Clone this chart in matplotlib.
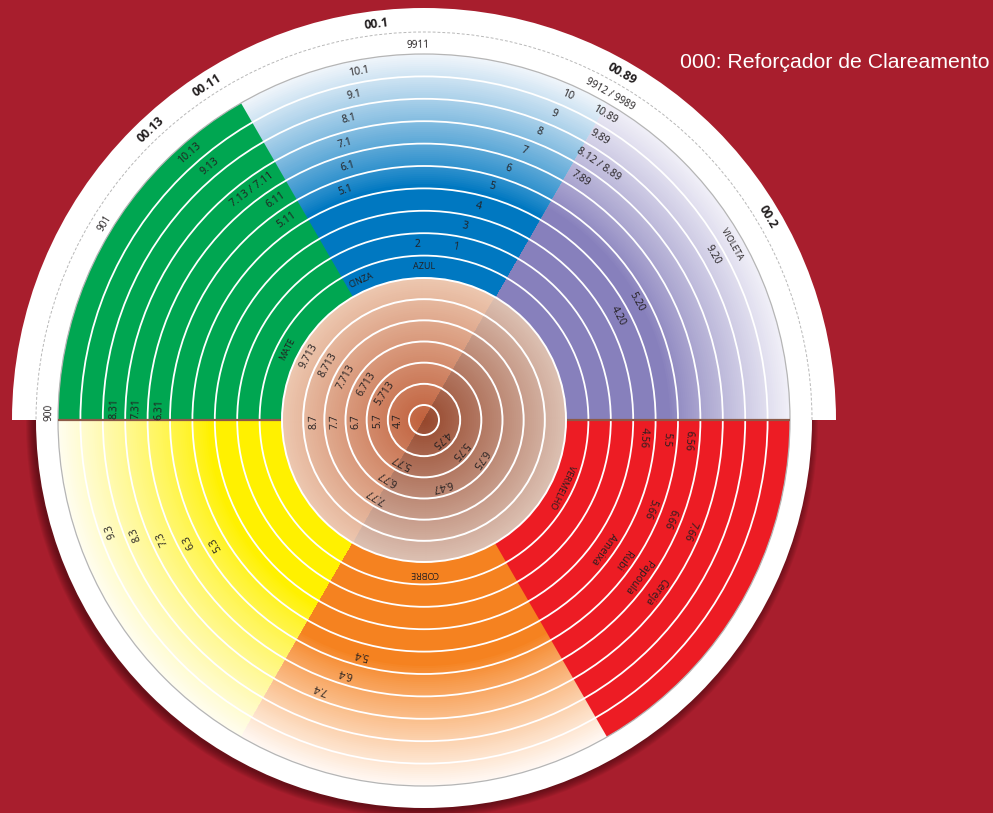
import numpy as np
import matplotlib.pyplot as plt
from matplotlib.patches import Wedge, Circle, Arc
from matplotlib.colors import to_rgb

# ---------------- data ----------------
title = '000: Reforçador de Clareamento'

# six reflex sectors of the outer wheel (start angle, degrees ccw from east)
sector_names = ['VIOLETA', 'AZUL', 'MATE', 'AMARELO', 'COBRE', 'VERMELHO']
sector_from = [0, 60, 120, 180, 240, 300]
n_levels = 10        # rings in the outer wheel
n_inner = 6          # rings in the inner (brown) disc

# labels in the outer wheel: text, ring level (1 = innermost), angle
violet_text = ['VIOLETA', '9.20', '5.20', '4.20', '10.89', '9.89', '8.12 / 8.89', '7.89']
violet_level = [10, 9, 5, 4, 10, 9, 8, 7]
violet_angle = [29.7, 29.8, 29.1, 28.3, 59.3, 58.1, 55.7, 57.0]

blue_text = ['AZUL', 'CINZA', '1', '2', '3', '4', '5', '6', '7', '8', '9', '10',
             '5.1', '6.1', '7.1', '8.1', '9.1', '10.1']
blue_level = [1, 1, 2, 2, 3, 4, 5, 6, 7, 8, 9, 10, 5, 6, 7, 8, 9, 10]
blue_angle = [90, 114, 79.5, 92, 78, 75.6, 73.8, 71.5, 69.6, 68.2, 66.9, 66.1,
              108.8, 106.7, 105.9, 104, 102.1, 100.5]

green_text = ['MATE', '5.11', '6.11', '7.13 / 7.11', '9.13', '10.13', '6.31', '7.31', '8.31']
green_level = [1, 5, 6, 7, 9, 10, 6, 7, 8]
green_angle = [152.7, 124.6, 124.1, 126.7, 130.2, 131.3, 177.8, 177.8, 177.8]

yellow_text = ['5.3', '6.3', '7.3', '8.3', '9.3']
yellow_level = [5, 6, 7, 8, 9]
yellow_angle = [210.6, 207.4, 204.3, 201.6, 199.4]

orange_text = ['COBRE', '5.4', '6.4', '7.4']
orange_level = [1, 5, 6, 7]
orange_angle = [270, 255.1, 252.7, 249]

red_text = ['VERMELHO', '4.56', '5.5', '6.56', '5.66', '6.66', '7.66',
            'Ameixa', 'Rubi', 'Papoula', 'Cereja']
red_level = [1, 4, 5, 6, 5, 6, 7, 4, 5, 6, 7]
red_angle = [-25.7, -4.5, -4.5, -4.5, -21.3, -21.9, -22.7, -35.4, -35, -36.2, -36.5]

# labels in the inner brown disc
inner_text = ['4.7', '5.7', '6.7', '7.7', '8.7', '5.713', '6.713', '7.713', '8.713', '9.713',
              '4.75', '5.75', '6.75', '6.47', '5.77', '6.77', '7.77']
inner_level = [1, 2, 3, 4, 5, 2, 3, 4, 5, 6, 1, 2, 3, 3, 2, 3, 4]
inner_angle = [181, 181, 181, 181, 181, 146, 148, 151, 150, 151,
               -48, -41, -35, -74.5, 242, 238, 238]

# labels in the white rim
rim_text = ['901', '9911', '9912 / 9989', '900']
rim_angle = [148.4, 91, 60.2, 178.8]
top_text = ['00.13', '00.11', '00.1', '00.89', '00.2']
top_angle = [133.2, 122.9, 96.8, 60.2, 30.6]

# ---------------- style ----------------
BG = '#a81e2d'
INK = '#231f20'
sector_base = ['#8780bc', '#0078c1', '#00a651', '#fff100', '#f58220', '#ed1c24']
sector_light = ['#f1f0f8', '#f2f6fb', '#00a651', '#fffdf0', '#fff9f4', '#ed1c24']
fade_start = [245, 235, 999, 215, 245, 999]

R_CORE = 15      # small centre circle
R_DISC = 142     # inner brown disc
R_WHEEL = 366    # coloured wheel
R_RIM_TOP = 412
R_RIM_BOT = 388
ring_w = (R_WHEEL - R_DISC) / n_levels
inner_w = (R_DISC - R_CORE) / n_inner

fig = plt.figure(figsize=(9.93, 8.13), dpi=100)
fig.patch.set_facecolor(BG)
ax = fig.add_axes([0, 0, 1, 1])
ax.set_xlim(-424, 569)
ax.set_ylim(-393, 420)
ax.axis('off')
ax.set_facecolor(BG)


def mix(c1, c2, t):
    a, b = np.array(to_rgb(c1)), np.array(to_rgb(c2))
    return tuple(a * (1 - t) + b * t)


# soft shadow under the lower half
for i in range(9):
    ax.add_patch(Wedge((-2, -2), R_RIM_BOT + 1.0 * i, 178, 362, fc='#2a0508',
                       alpha=0.07, lw=0, zorder=0))

# white rims
ax.add_patch(Wedge((0, 0), R_RIM_TOP, 0, 180, fc='white', ec='none', zorder=1))
ax.add_patch(Wedge((0, 0), R_RIM_BOT, 180, 360, fc='white', ec='none', zorder=1))
ax.add_patch(Arc((0, 0), 2 * 388, 2 * 388, theta1=0, theta2=180, color='#b8b8b8',
                 lw=0.7, ls=(0, (3, 2)), zorder=2))

# coloured sectors with radial fade: paint from outside in so bands overlap (no seams)
steps = np.arange(R_WHEEL, R_DISC, -2.0)
for s in range(len(sector_names)):
    a0 = sector_from[s]
    if fade_start[s] >= R_WHEEL:
        ax.add_patch(Wedge((0, 0), R_WHEEL, a0, a0 + 60, width=R_WHEEL - R_DISC,
                           fc=sector_base[s], ec='none', zorder=3))
        continue
    for r in steps:
        t = np.clip((r - 1 - fade_start[s]) / (R_WHEEL - fade_start[s]), 0, 1)
        c = mix(sector_base[s], sector_light[s], t ** 0.85)
        ax.add_patch(Wedge((0, 0), r, a0, a0 + 60, width=r - R_DISC,
                           fc=c, ec='none', zorder=3))

ax.add_patch(Circle((0, 0), R_WHEEL, fill=False, ec='#b5b5b5', lw=0.9, zorder=4))
for k in range(1, n_levels):
    ax.add_patch(Circle((0, 0), R_DISC + k * ring_w, fill=False, ec='white', lw=1.3, zorder=5))

# brown divider on the horizontal
ax.plot([-R_WHEEL, -R_DISC], [0, 0], color='#8c5a48', lw=1.6, zorder=6, solid_capstyle='butt')
ax.plot([R_DISC, R_WHEEL], [0, 0], color='#8c5a48', lw=1.6, zorder=6, solid_capstyle='butt')

# inner brown disc: two halves split along 60/240 degrees
halves = [(60, 240, '#c0603c', '#edc8b0'), (240, 420, '#96462b', '#dcc1b3')]
for h0, h1, c_in, c_out in halves:
    for r in np.arange(R_DISC, 0, -2.0):
        c = mix(c_in, c_out, (r - 1) / R_DISC)
        ax.add_patch(Wedge((0, 0), r, h0, h1, fc=c, ec='none', zorder=7))
for k in range(n_inner):
    ax.add_patch(Circle((0, 0), R_CORE + k * inner_w, fill=False, ec='white', lw=1.4, zorder=8))
ax.add_patch(Circle((0, 0), R_DISC, fill=False, ec='white', lw=1.4, zorder=8))


def put(text, r, ang, size, weight='normal', color=INK, family='Open Sans'):
    a = np.deg2rad(ang)
    ax.text(r * np.cos(a), r * np.sin(a), text, rotation=(ang - 90) % 360,
            rotation_mode='anchor', ha='center', va='center', fontsize=size,
            fontweight=weight, color=color, family=family, zorder=10)


caps = {'AZUL', 'CINZA', 'MATE', 'COBRE', 'VERMELHO', 'VIOLETA'}
groups = [(violet_text, violet_level, violet_angle), (blue_text, blue_level, blue_angle),
          (green_text, green_level, green_angle), (yellow_text, yellow_level, yellow_angle),
          (orange_text, orange_level, orange_angle), (red_text, red_level, red_angle)]
for texts, levels, angles in groups:
    for t, lv, an in zip(texts, levels, angles):
        r = R_DISC + (lv - 0.5) * ring_w
        put(t, r, an, 6.5 if t in caps else 7.6)

for t, lv, an in zip(inner_text, inner_level, inner_angle):
    put(t, R_CORE + (lv - 0.5) * inner_w, an, 7.6)

for t, an in zip(rim_text, rim_angle):
    put(t, 375, an, 7.2)
for t, an in zip(top_text, top_angle):
    put(t, 399, an, 8.8, weight='bold')

fig.text(680 / 993, 1 - 62 / 813, title, ha='left', va='center', color='white',
         fontsize=15.3, family='Liberation Sans')

fig.savefig('out.png', dpi=100, facecolor=BG)
